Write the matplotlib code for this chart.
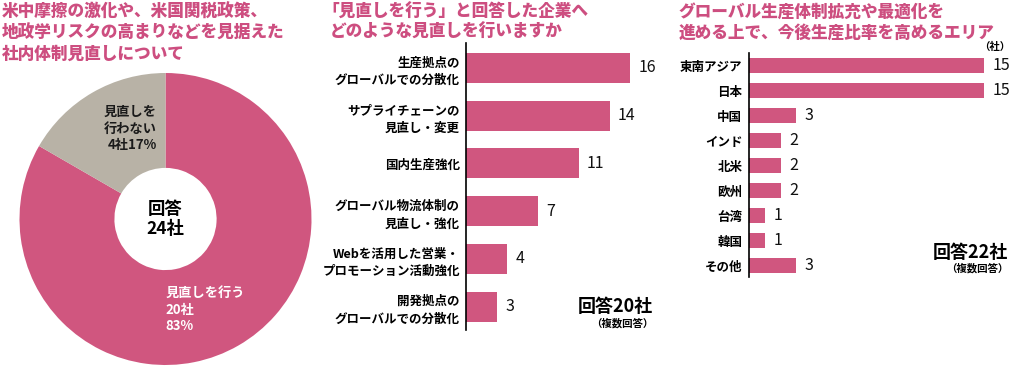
import matplotlib
matplotlib.use("Agg")
import matplotlib.pyplot as plt

plt.rcParams['font.family'] = ['Noto Sans CJK JP', 'DejaVu Sans']

PINK = "#D0567F"
GREY = "#B8B2A6"
TITLE = "#CD4E80"

# --- data ---
pie_labels = ["見直しを行う", "見直しを行わない"]
pie_counts = [20, 4]
pie_pcts = [83, 17]
pie_total = 24

mid_cats = ["生産拠点の\nグローバルでの分散化", "サプライチェーンの\n見直し・変更", "国内生産強化",
            "グローバル物流体制の\n見直し・強化", "Webを活用した営業・\nプロモーション活動強化",
            "開発拠点の\nグローバルでの分散化"]
mid_vals = [16, 14, 11, 7, 4, 3]
mid_total = 20

right_cats = ["東南アジア", "日本", "中国", "インド", "北米", "欧州", "台湾", "韓国", "その他"]
right_vals = [15, 15, 3, 2, 2, 2, 1, 1, 3]
right_total = 22

W, H = 1024, 379
fig = plt.figure(figsize=(W / 100, H / 100), dpi=100)


def ax_px(left, top, width, height):
    return fig.add_axes([left / W, 1 - (top + height) / H, width / W, height / H])


def ftext(x, y, s, **kw):
    fig.text(x / W, 1 - y / H, s, **kw)


tkw = dict(fontsize=12, fontweight='heavy', color=TITLE, va='top', ha='left')

# --- titles ---
ftext(2, 3, "米中摩擦の激化や、米国関税政策、\n地政学リスクの高まりなどを見据えた\n社内体制見直しについて",
      linespacing=1.2, **tkw)
ftext(322, 3, "「見直しを行う」と回答した企業へ", **tkw)
ftext(330, 23, "どのような見直しを行いますか", **tkw)
ftext(679, 3, "グローバル生産体制拡充や最適化を\n進める上で、今後生産比率を高めるエリア",
      linespacing=1.2, **tkw)

# --- donut ---
cx, cy, r = 165.5, 219, 146
axp = ax_px(cx - r, cy - r, 2 * r, 2 * r)
axp.pie(pie_counts, colors=[PINK, GREY], startangle=90, counterclock=False,
        radius=1, wedgeprops=dict(width=1 - 0.35, edgecolor='none'))
axp.set_xlim(-1, 1)
axp.set_ylim(-1, 1)
axp.set_aspect('equal')
axp.axis('off')
axp.text(0, 0, f"回答\n{pie_total}社", ha='center', va='center', fontsize=12.5,
         fontweight='bold', color='black', linespacing=1.15)
axp.text(-0.06, 0.62, f"見直しを\n行わない\n{pie_counts[1]}社{pie_pcts[1]}%", ha='right', va='center',
         fontsize=9.5, fontweight='bold', color='#1a1a1a', linespacing=1.25)
axp.text(0.0, -0.62, f"{pie_labels[0]}\n{pie_counts[0]}社\n{pie_pcts[0]}%", ha='left', va='center',
         fontsize=9.5, fontweight='bold', color='white', linespacing=1.25)

# --- middle bar chart ---
mpx = 10.25
axm = ax_px(466, 43, 20 * mpx, 287)
ym = list(range(len(mid_cats)))
axm.barh(ym, mid_vals, height=0.63, color=PINK)
axm.set_xlim(0, 20)
axm.set_ylim(len(mid_cats) - 0.51, -0.52)
axm.set_yticks(ym)
axm.set_yticklabels(mid_cats, fontsize=9, fontweight='bold', linespacing=1.5)
axm.tick_params(axis='y', length=0, pad=4.5)
axm.set_xticks([])
for s in ['top', 'right', 'bottom']:
    axm.spines[s].set_visible(False)
axm.spines['left'].set_linewidth(1.2)
for y, v in zip(ym, mid_vals):
    axm.annotate(str(v), (v, y), xytext=(6, 0), textcoords='offset points',
                 va='center', ha='left', fontsize=11.5, color='#111111')
ftext(653, 307, f"回答{mid_total}社", ha='right', va='center', fontsize=13, fontweight='bold')
ftext(653, 323, "（複数回答）", ha='right', va='center', fontsize=7.5, fontweight='bold')

# --- right bar chart ---
rpx = 15.67
axr = ax_px(749.3, 53, 16.5 * rpx, 224)
yr = list(range(len(right_cats)))
axr.barh(yr, right_vals, height=0.6, color=PINK)
axr.set_xlim(0, 16.5)
axr.set_ylim(len(right_cats) - 0.55, -0.51)
axr.set_yticks(yr)
axr.set_yticklabels(right_cats, fontsize=9, fontweight='bold')
axr.tick_params(axis='y', length=0, pad=5)
axr.set_xticks([])
for s in ['top', 'right', 'bottom']:
    axr.spines[s].set_visible(False)
axr.spines['left'].set_linewidth(1.2)
for y, v in zip(yr, right_vals):
    axr.annotate(str(v), (v, y), xytext=(6, 0), textcoords='offset points',
                 va='center', ha='left', fontsize=11.5, color='#111111')
ftext(1010, 47, "（社）", ha='right', va='center', fontsize=7.5, fontweight='bold')
ftext(1008, 253, f"回答{right_total}社", ha='right', va='center', fontsize=13, fontweight='bold')
ftext(1008, 268, "（複数回答）", ha='right', va='center', fontsize=7.5, fontweight='bold')

fig.savefig("out.png", dpi=100)
